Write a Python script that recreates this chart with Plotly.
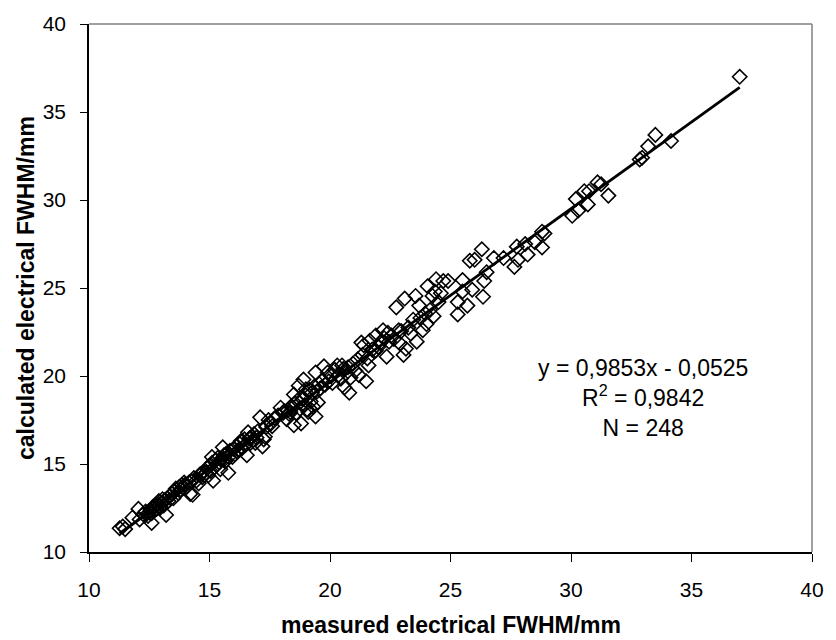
import plotly.graph_objects as go

# measured (x) and calculated (y) electrical FWHM in mm
measured = [
    11.27, 11.40, 11.50, 11.80, 12.05, 12.10, 12.25, 12.35, 12.45, 12.55,
    12.60, 12.60, 12.65, 12.70, 12.75, 12.80, 12.85, 12.90, 12.95, 13.00,
    13.05, 13.10, 13.20, 13.25, 13.30, 13.35, 13.45, 13.50, 13.55, 13.60,
    13.70, 13.75, 13.80, 13.85, 13.90, 14.00, 14.05, 14.20, 14.25, 14.30,
    14.35, 14.45, 14.55, 14.60, 14.70, 14.75, 14.85, 14.90, 14.95, 15.00,
    15.05, 15.10, 15.10, 15.15, 15.20, 15.25, 15.30, 15.35, 15.40, 15.45,
    15.50, 15.55, 15.60, 15.65, 15.70, 15.78, 15.80, 15.85, 15.95, 16.00,
    16.05, 16.10, 16.15, 16.25, 16.30, 16.35, 16.45, 16.50, 16.55, 16.60,
    16.65, 16.70, 16.75, 16.80, 16.85, 16.90, 16.95, 17.00, 17.10, 17.20,
    17.25, 17.30, 17.35, 17.45, 17.55, 17.70, 17.85, 17.95, 18.05, 18.10,
    18.20, 18.25, 18.30, 18.40, 18.45, 18.50, 18.50, 18.55, 18.60, 18.65,
    18.70, 18.75, 18.80, 18.85, 18.90, 18.95, 19.00, 19.05, 19.10, 19.15,
    19.20, 19.25, 19.30, 19.35, 19.40, 19.40, 19.45, 19.50, 19.55, 19.60,
    19.70, 19.75, 19.80, 19.90, 19.95, 20.05, 20.10, 20.20, 20.30, 20.35,
    20.45, 20.55, 20.60, 20.65, 20.75, 20.80, 20.85, 20.95, 21.05, 21.15,
    21.20, 21.30, 21.35, 21.40, 21.50, 21.55, 21.60, 21.65, 21.75, 21.85,
    21.90, 22.00, 22.10, 22.20, 22.25, 22.35, 22.40, 22.45, 22.55, 22.65,
    22.75, 22.85, 22.90, 22.95, 23.05, 23.10, 23.15, 23.25, 23.35, 23.45,
    23.55, 23.60, 23.70, 23.75, 23.85, 23.95, 24.00, 24.05, 24.15, 24.25,
    24.30, 24.35, 24.40, 24.50, 24.60, 24.70, 24.90, 25.30, 25.30, 25.50,
    25.50, 25.70, 25.80, 25.90, 26.00, 26.30, 26.35, 26.40, 26.50, 26.80,
    27.20, 27.65, 27.75, 27.80, 28.10, 28.20, 28.50, 28.80, 28.80, 28.90,
    30.05, 30.20, 30.30, 30.55, 30.70, 30.75, 31.10, 31.25, 31.55, 32.85,
    32.95, 33.20, 33.50, 34.15, 37.00, 12.50, 13.15, 13.95, 14.15, 14.65,
    15.60, 16.20, 16.70, 17.60, 18.35, 19.00, 20.50, 21.90,
]
calculated = [
    11.35, 11.45, 11.30, 11.95, 12.45, 11.85, 12.15, 12.30, 12.05, 12.40,
    11.65, 12.20, 12.55, 12.35, 12.60, 12.45, 12.70, 12.90, 12.50, 12.80,
    13.00, 12.65, 12.10, 13.05, 12.90, 13.20, 13.30, 13.05, 13.45, 13.60,
    13.35, 13.70, 13.55, 13.80, 13.65, 13.85, 13.70, 13.30, 14.00, 13.25,
    14.20, 14.05, 13.90, 14.40, 14.25, 14.55, 14.50, 14.75, 14.35, 14.90,
    14.60, 15.40, 15.05, 14.05, 14.80, 15.20, 14.95, 15.35, 15.10, 14.70,
    15.30, 15.95, 15.50, 15.15, 15.60, 14.50, 15.40, 15.75, 15.40, 15.85,
    15.55, 16.00, 15.70, 16.15, 16.30, 15.90, 16.40, 16.10, 15.50, 16.80,
    16.45, 16.20, 16.55, 16.35, 16.70, 16.20, 16.50, 16.85, 17.65, 16.00,
    16.40, 16.55, 17.10, 17.50, 17.30, 17.60, 17.75, 18.20, 17.90, 18.00,
    17.55, 18.05, 17.85, 18.30, 18.20, 17.20, 18.95, 18.45, 17.90, 18.60,
    19.45, 18.15, 17.30, 18.70, 19.80, 18.35, 18.90, 18.10, 17.95, 19.20,
    18.55, 19.05, 18.25, 19.40, 17.70, 20.20, 19.10, 18.50, 19.55, 19.30,
    19.75, 20.55, 19.50, 20.20, 19.70, 20.00, 19.60, 20.35, 20.60, 20.05,
    19.85, 20.40, 19.35, 20.15, 20.50, 19.05, 19.90, 20.70, 20.30, 20.95,
    20.05, 21.90, 21.20, 21.75, 19.70, 21.00, 20.60, 22.00, 21.50, 21.40,
    22.30, 21.65, 21.90, 22.60, 22.15, 21.10, 22.45, 21.95, 22.30, 22.10,
    23.90, 22.60, 21.85, 22.55, 21.20, 24.40, 21.55, 22.75, 22.40, 23.20,
    24.55, 21.95, 24.00, 23.30, 22.60, 23.55, 22.95, 25.10, 23.75, 24.55,
    23.40, 24.80, 25.50, 24.20, 24.70, 25.40, 25.40, 24.20, 23.50, 24.80,
    25.45, 24.00, 26.55, 24.90, 26.60, 27.20, 24.50, 25.40, 25.90, 26.70,
    26.70, 26.20, 27.35, 26.60, 27.50, 26.90, 27.60, 28.20, 27.30, 28.10,
    29.10, 30.05, 29.40, 30.50, 29.75, 30.50, 31.00, 30.90, 30.25, 32.30,
    32.40, 33.05, 33.70, 33.35, 37.00, 12.25, 12.95, 13.95, 13.95, 14.45,
    15.25, 15.80, 16.45, 17.15, 17.95, 19.25, 20.60, 21.45,
]

slope = 0.9853
intercept = -0.0525
x_ticks = [10, 15, 20, 25, 30, 35, 40]
y_ticks = [10, 15, 20, 25, 30, 35, 40]
equation_text = "y = 0,9853x - 0,0525<br>R<sup>2</sup> = 0,9842<br>N = 248"
x_title = "measured electrical FWHM/mm"
y_title = "calculated electrical FWHM/mm"

fit_x = [min(measured), max(measured)]
fit_y = [slope * v + intercept for v in fit_x]

FONT = "Liberation Sans, Arial, sans-serif"

fig = go.Figure()
fig.add_trace(go.Scatter(
    x=measured, y=calculated, mode="markers",
    marker=dict(symbol="diamond-open", size=11, color="black",
                line=dict(color="black", width=1.6)),
    showlegend=False, hoverinfo="skip",
))
fig.add_trace(go.Scatter(
    x=fit_x, y=fit_y, mode="lines",
    line=dict(color="black", width=2.8),
    showlegend=False, hoverinfo="skip",
))

tick_font = dict(family=FONT, size=21, color="black")

fig.update_layout(
    width=836, height=640,
    margin=dict(l=89, r=15, t=16, b=88),
    paper_bgcolor="white", plot_bgcolor="white",
    font=dict(family=FONT, color="black"),
    xaxis=dict(range=[10, 40], tickvals=x_ticks, showgrid=False, zeroline=False,
               showline=True, linecolor="black", linewidth=1.5,
               ticks="outside", ticklen=8, tickwidth=1.3, tickcolor="black",
               tickfont=tick_font, ticklabelstandoff=10),
    yaxis=dict(range=[10, 40], tickvals=y_ticks, showgrid=False, zeroline=False,
               showline=True, linecolor="black", linewidth=1.5,
               ticks="outside", ticklen=7, tickwidth=1.3, tickcolor="black",
               tickfont=tick_font, ticklabelstandoff=10),
    shapes=[
        dict(type="line", xref="paper", yref="paper", x0=0, x1=1, y0=1, y1=1,
             line=dict(color="#808080", width=1.5)),
        dict(type="line", xref="paper", yref="paper", x0=1, x1=1, y0=0, y1=1,
             line=dict(color="#808080", width=1.5)),
    ],
)

plot_w = 836 - 89 - 15
plot_h = 640 - 16 - 88

fig.add_annotation(
    text=equation_text, xref="paper", yref="paper",
    x=(650 - 89) / plot_w, y=(552 - 396) / plot_h,
    xanchor="center", yanchor="middle", showarrow=False, align="center",
    font=dict(family=FONT, size=23, color="black"),
)
fig.add_annotation(
    text=f"<b>{x_title}</b>", xref="paper", yref="paper",
    x=0.5, y=0, yshift=-(625 - 552), xanchor="center", yanchor="middle",
    showarrow=False, font=dict(family=FONT, size=23, color="black"),
)
fig.add_annotation(
    text=f"<b>{y_title}</b>", xref="paper", yref="paper",
    x=0, y=0.5, xshift=-(89 - 26), xanchor="center", yanchor="middle",
    textangle=-90, showarrow=False, font=dict(family=FONT, size=23, color="black"),
)

fig.write_html("out.html")
